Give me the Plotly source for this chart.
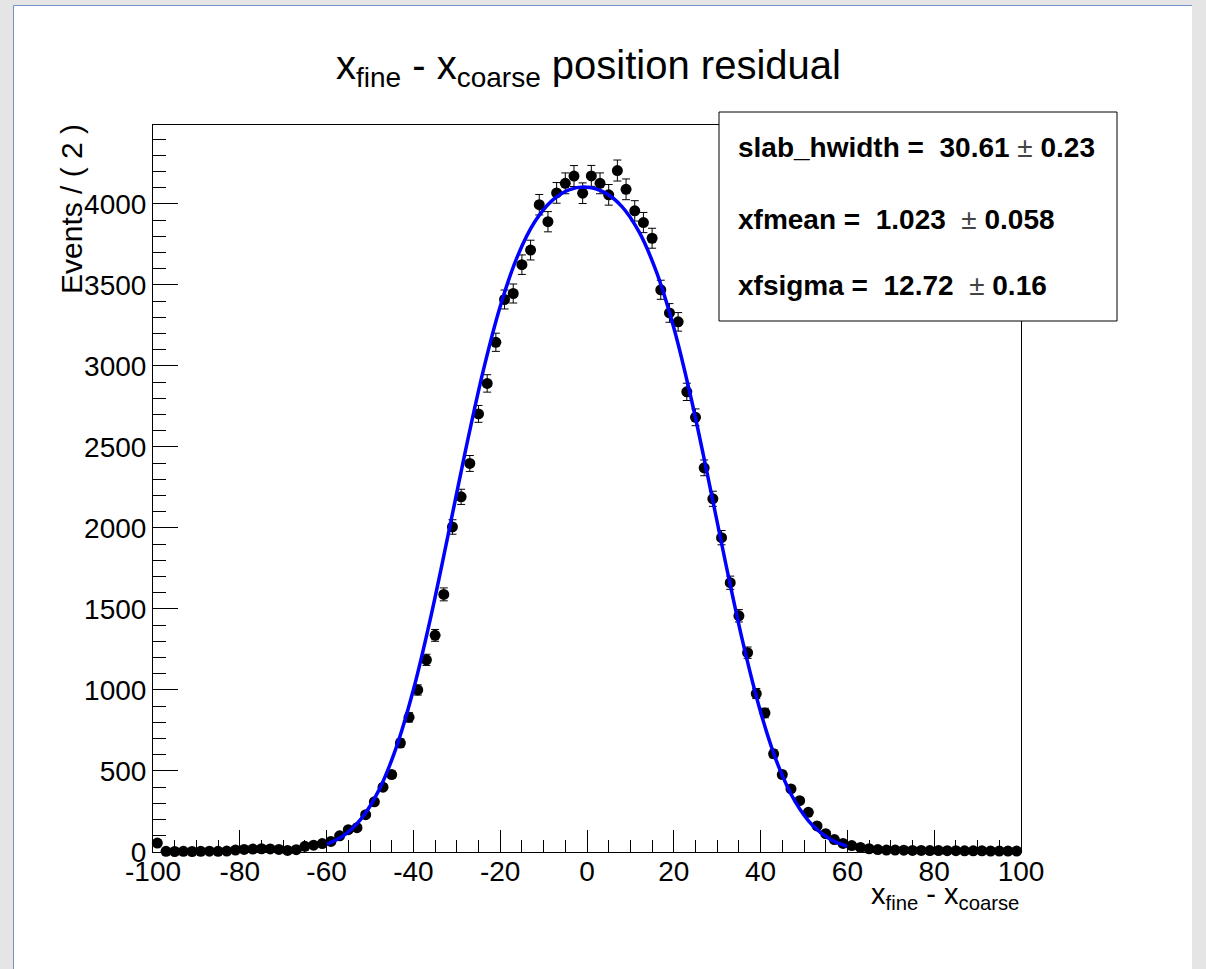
import plotly.graph_objects as go

# ---------------- data ----------------
bin_centers = list(range(-99, 100, 2))   # 100 bins of width 2
counts = [
    55, 4, 3, 4, 3, 4, 5, 4, 6, 12,
    16, 18, 20, 19, 16, 10, 14, 35, 42, 52,
    65, 100, 138, 150, 230, 310, 400, 478, 672, 831,
    1000, 1186, 1337, 1590, 2006, 2192, 2398, 2704, 2892, 3146,
    3410, 3447, 3625, 3715, 3995, 3890, 4068, 4127, 4172, 4066,
    4173, 4127, 4056, 4206, 4090, 3957, 3885, 3788, 3470, 3327,
    3272, 2840, 2683, 2371, 2180, 1940, 1662, 1458, 1230, 978,
    858, 606, 478, 389, 317, 245, 161, 113, 77, 53,
    40, 28, 20, 15, 12, 12, 11, 10, 10, 9,
    9, 8, 8, 7, 7, 7, 6, 6, 6, 6,
]

fit_x = list(range(-60, 61, 4))
fit_y = [47, 103, 206, 379, 641, 1001, 1450, 1957, 2477, 2960, 3367,
         3678, 3891, 4022, 4088, 4103, 4071, 3985, 3827, 3580, 3236,
         2799, 2297, 1776, 1284, 864, 538, 309, 163, 79, 35]

x_tick_vals = [-100, -80, -60, -40, -20, 0, 20, 40, 60, 80, 100]
x_tick_text = ["-100", "-80", "-60", "-40", "-20", "0", "20", "40", "60", "80", "100"]
y_tick_vals = [0, 500, 1000, 1500, 2000, 2500, 3000, 3500, 4000]
y_tick_text = ["0", "500", "1000", "1500", "2000", "2500", "3000", "3500", "4000"]

stats_lines = [
    ("slab_hwidth = &nbsp;30.61 ", "0.23"),
    ("xfmean = &nbsp;1.023 &nbsp;", "0.058"),
    ("xfsigma = &nbsp;12.72 &nbsp;", "0.16"),
]

# ---------------- geometry ----------------
W, H = 1206, 969
L, R, T, B = 153, 1021, 125, 852
pw, ph = R - L, B - T

def px(X):
    return (X - L) / pw

def py(Y):
    return (B - Y) / ph

FONT = "Liberation Sans, Arial, sans-serif"

fig = go.Figure()

fig.add_trace(go.Scatter(
    x=bin_centers, y=counts, mode="markers",
    marker=dict(color="black", size=11, symbol="circle"),
    error_y=dict(type="sqrt", color="black", thickness=1, width=4),
    showlegend=False, cliponaxis=False,
))

fig.add_trace(go.Scatter(
    x=fit_x, y=fit_y, mode="lines",
    line=dict(color="#0000ff", width=3.5, shape="spline", smoothing=1.0),
    showlegend=False,
))

shapes = [
    # white canvas
    dict(type="rect", xref="paper", yref="paper",
         x0=px(14), x1=px(1192), y0=py(975), y1=py(6),
         fillcolor="white", line=dict(width=0), layer="below"),
    # blue border lines left and top
    dict(type="line", xref="paper", yref="paper",
         x0=px(13.5), x1=px(13.5), y0=py(975), y1=py(5.5),
         line=dict(color="#7192c8", width=1), layer="below"),
    dict(type="line", xref="paper", yref="paper",
         x0=px(13.5), x1=px(1192), y0=py(5.5), y1=py(5.5),
         line=dict(color="#7192c8", width=1), layer="below"),
    # stats box
    dict(type="rect", xref="paper", yref="paper",
         x0=px(719), x1=px(1117), y0=py(321), y1=py(112),
         fillcolor="white", line=dict(color="black", width=1), layer="above"),
]

annotations = []
for (txt, err), yy in zip(stats_lines, [147, 219, 285]):
    annotations.append(dict(
        xref="paper", yref="paper", x=px(736), y=py(yy),
        xanchor="left", yanchor="middle", showarrow=False,
        text="<b>" + txt + "</b><span style='color:#444'>±</span><b> " + err + "</b>",
        font=dict(family=FONT, size=28, color="black"),
    ))

# title
annotations.append(dict(
    xref="paper", yref="paper", x=px(588), y=py(68),
    xanchor="center", yanchor="middle", showarrow=False,
    text="x<sub>fine</sub> - x<sub>coarse</sub> position residual",
    font=dict(family=FONT, size=40, color="black"),
))
# y axis title
annotations.append(dict(
    xref="paper", yref="paper", x=px(72), y=py(122),
    xanchor="center", yanchor="top", showarrow=False, textangle=-90,
    text="Events / ( 2 )",
    font=dict(family=FONT, size=30, color="black"),
))
# x axis title
annotations.append(dict(
    xref="paper", yref="paper", x=1.0, y=py(896),
    xanchor="right", yanchor="middle", showarrow=False,
    text="x<sub>fine</sub> - x<sub>coarse</sub>",
    font=dict(family=FONT, size=29, color="black"),
))

fig.update_layout(
    width=W, height=H,
    margin=dict(l=L, r=W - R, t=T, b=H - B, pad=0),
    paper_bgcolor="#e5e5e5",
    plot_bgcolor="white",
    shapes=shapes,
    annotations=annotations,
    font=dict(family=FONT, color="black"),
)

fig.update_xaxes(
    range=[-100, 100], showgrid=False, zeroline=False,
    showline=True, linecolor="black", linewidth=1, mirror=True,
    ticks="inside", ticklen=22, tickcolor="black", tickwidth=1,
    tickmode="array", tickvals=x_tick_vals, ticktext=x_tick_text,
    ticklabelstandoff=-6,
    minor=dict(ticks="inside", ticklen=12, tick0=-100, dtick=5,
               tickcolor="black", showgrid=False),
    tickfont=dict(family=FONT, size=28, color="black"),
)
fig.update_yaxes(
    range=[0, 4487], showgrid=False, zeroline=False,
    showline=True, linecolor="black", linewidth=1, mirror=True,
    ticks="inside", ticklen=25, tickcolor="black", tickwidth=1,
    tickmode="array", tickvals=y_tick_vals, ticktext=y_tick_text,
    minor=dict(ticks="inside", ticklen=13, tick0=0, dtick=100,
               tickcolor="black", showgrid=False),
    tickfont=dict(family=FONT, size=28, color="black"),
)

fig.write_html("out.html")
